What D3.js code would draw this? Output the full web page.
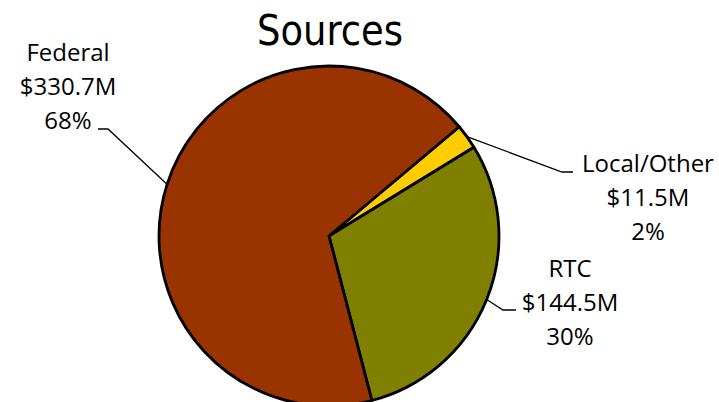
<!DOCTYPE html>
<html>
<head>
<meta charset="utf-8">
<script src="https://cdn.jsdelivr.net/npm/d3@7"></script>
<style>
  body { margin: 0; background: #fff; }
  svg { display: block; }
  .lbl { font-family: "Open Sans", sans-serif; font-size: 24px; fill: #000; }
  .title { font-family: "DejaVu Sans Condensed", "DejaVu Sans", sans-serif; font-size: 43px; fill: #000; }
</style>
</head>
<body>
<svg id="chart"></svg>
<script>
// slice data, in drawing order (clockwise from the Local/Other wedge)
const categories = ['Local/Other', 'RTC', 'Federal'];
const amounts = [11.5, 144.5, 330.7]; // $M
const colors = ['#FFCC00', '#808000', '#993300'];

const width = 719, height = 402;
const cx = 329, cy = 236, radius = 170;
const startDeg = 50;

// where each label block sits (text centre x, first baseline y) and the leader elbow
const labelLayout = {
  'Federal':     { x: 68,  y: 61,  lineEnd: [108, 129], lineTip: [98, 129] },
  'Local/Other': { x: 648, y: 172, lineEnd: [562, 172], lineTip: [573, 172] },
  'RTC':         { x: 570, y: 277, lineEnd: [503, 310], lineTip: [516, 310] }
};

const total = d3.sum(amounts);
const fmtPct = d3.format('.0%');
const fmtMoney = v => '$' + d3.format('.1f')(v) + 'M';

const svg = d3.select('#chart').attr('width', width).attr('height', height);

svg.append('text').attr('class', 'title')
  .attr('x', 330).attr('y', 45)
  .attr('text-anchor', 'middle')
  .attr('textLength', 146).attr('lengthAdjust', 'spacingAndGlyphs')
  .text('Sources');

const data = categories.map((c, i) => ({ name: c, value: amounts[i], color: colors[i] }));

const a0 = startDeg * Math.PI / 180;
const pie = d3.pie().sort(null).value(d => d.value)
  .startAngle(a0).endAngle(a0 + 2 * Math.PI);
const arcs = pie(data);
const arc = d3.arc().innerRadius(0).outerRadius(radius);

const g = svg.append('g').attr('transform', `translate(${cx},${cy})`);
g.selectAll('path.slice')
  .data(arcs)
  .join('path')
  .attr('class', 'slice')
  .attr('d', arc)
  .attr('fill', d => d.data.color)
  .attr('stroke', '#000')
  .attr('stroke-width', 2.8)
  .attr('stroke-linejoin', 'round');

// leader lines: from arc edge at the slice's mid angle to the label
arcs.forEach(d => {
  const lay = labelLayout[d.data.name];
  const mid = (d.startAngle + d.endAngle) / 2;
  const px = cx + radius * Math.sin(mid);
  const py = cy - radius * Math.cos(mid);
  svg.append('polyline')
    .attr('points', [[px, py], lay.lineEnd, lay.lineTip].map(p => p.join(',')).join(' '))
    .attr('fill', 'none')
    .attr('stroke', '#000')
    .attr('stroke-width', 1.3);

  const lines = [d.data.name, fmtMoney(d.data.value), fmtPct(d.data.value / total)];
  svg.append('g').selectAll('text')
    .data(lines)
    .join('text')
    .attr('class', 'lbl')
    .attr('x', lay.x)
    .attr('y', (t, i) => lay.y + i * 34)
    .attr('text-anchor', 'middle')
    .text(t => t);
});
</script>
</body>
</html>
